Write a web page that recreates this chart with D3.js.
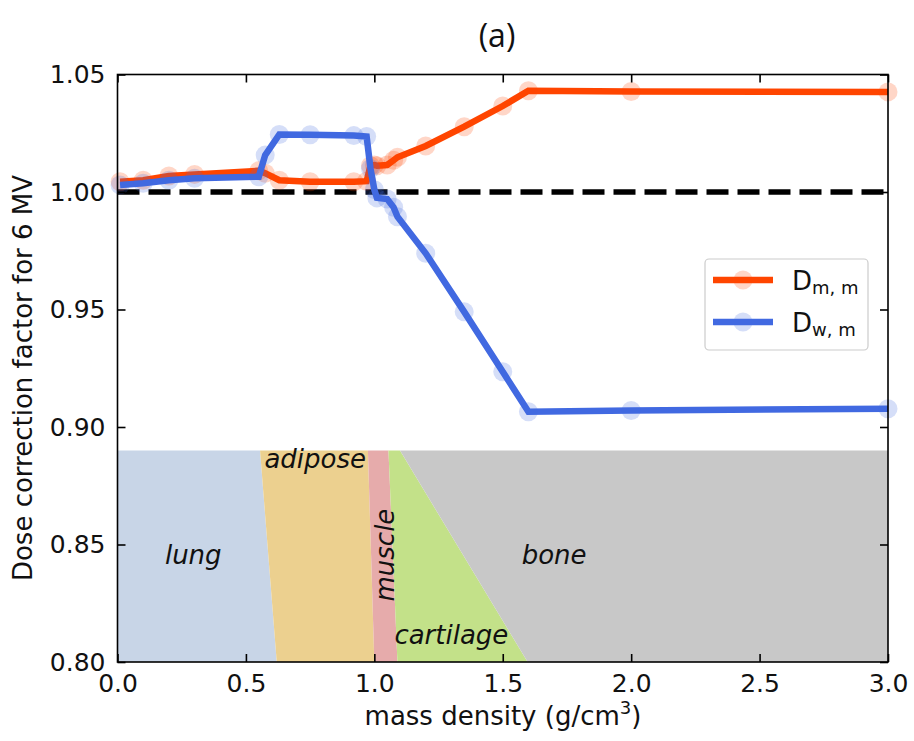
<!DOCTYPE html>
<html><head><meta charset="utf-8">
<script src="https://cdn.jsdelivr.net/npm/d3@7"></script>
<style>
body{margin:0;background:#fff;}
text{font-family:"DejaVu Sans",sans-serif;}
</style></head>
<body><svg id="c" width="914" height="741"></svg>
<script>
// ---- data ----
const density = [0.01,0.1,0.2,0.3,0.55,0.575,0.63,0.75,0.92,0.97,0.985,1.0,1.01,1.05,1.075,1.09,1.2,1.35,1.5,1.6,2.0,3.0];
const Dmm =     [1.0044,1.0050,1.0068,1.0075,1.0090,1.0080,1.0050,1.0044,1.0044,1.0046,1.0112,1.0115,1.0112,1.0115,1.0135,1.0148,1.0196,1.0278,1.0366,1.0431,1.0428,1.0426];
const Dwm =     [1.0030,1.0037,1.0050,1.0058,1.0065,1.0157,1.0245,1.0244,1.0240,1.0236,1.0100,1.0010,0.9975,0.9970,0.9935,0.9895,0.9739,0.9490,0.9235,0.9065,0.9070,0.9078];
const tissueNames = ["lung","adipose","muscle","cartilage","bone"];
// boundaries at top (y=0.89) and bottom (y=0.80)
const boundTop =    [0.0,0.555,0.975,1.055,1.10,3.0];
const boundBottom = [0.0,0.620,1.000,1.090,1.597,3.0];
const regionTop = 0.89;
const xTicks = [0,0.5,1.0,1.5,2.0,2.5,3.0];
const yTicks = [0.80,0.85,0.90,0.95,1.00,1.05];
const seriesNames = ["m, m","w, m"];

const colors = {lung:"#c8d5e7",adipose:"#ecd08f",muscle:"#e6abab",cartilage:"#c3e189",bone:"#c8c8c8"};
const lineColors = ["#ff4500","#4169e1"];

const svg = d3.select("#c");
const x = d3.scaleLinear().domain([0,3]).range([117.5,888]);
const y = d3.scaleLinear().domain([0.80,1.05]).range([662,74.5]);

// tissue regions
tissueNames.forEach((n,i)=>{
  const pts=[[boundTop[i],regionTop],[boundTop[i+1],regionTop],[boundBottom[i+1],0.80],[boundBottom[i],0.80]];
  svg.append("path").attr("d",d3.line().x(d=>x(d[0])).y(d=>y(d[1]))(pts)+"Z").attr("fill",colors[n]);
});

// region labels
const lab = svg.append("g").attr("font-style","italic").attr("font-size",26).attr("fill","#111");
lab.append("text").attr("x",x(0.295)).attr("y",y(0.8415)).attr("text-anchor","middle").text("lung");
lab.append("text").attr("x",x(0.77)).attr("y",y(0.8825)).attr("text-anchor","middle").text("adipose");
lab.append("text").attr("transform",`translate(${x(1.075)},${y(0.8455)}) rotate(-90)`).attr("text-anchor","middle").text("muscle");
lab.append("text").attr("x",x(1.30)).attr("y",y(0.8075)).attr("text-anchor","middle").text("cartilage");
lab.append("text").attr("x",x(1.70)).attr("y",y(0.8415)).attr("text-anchor","middle").text("bone");

// dashed reference line
svg.append("line").attr("x1",x(0)).attr("x2",x(3)).attr("y1",y(1)).attr("y2",y(1))
  .attr("stroke","#000").attr("stroke-width",5.5).attr("stroke-dasharray","22,9");

// series
const line = d3.line().x((d,i)=>x(density[i])).y(d=>y(d));
[Dmm,Dwm].forEach((vals,k)=>{
  const g = svg.append("g");
  g.append("path").attr("d",line(vals)).attr("fill","none").attr("stroke",lineColors[k]).attr("stroke-width",6.5).attr("stroke-linejoin","miter");
  g.selectAll("circle").data(vals).join("circle").attr("cx",(d,i)=>x(density[i])).attr("cy",d=>y(d)).attr("r",9.5)
    .attr("fill",lineColors[k]).attr("opacity",0.22);
});

// axes
const ax = svg.append("g");
const axB = d3.axisBottom(x).tickValues(xTicks).tickFormat(d3.format(".1f")).tickSize(-8).tickPadding(12);
const axT = d3.axisTop(x).tickValues(xTicks).tickFormat("").tickSize(-8);
const axL = d3.axisLeft(y).tickValues(yTicks).tickFormat(d3.format(".2f")).tickSize(-8).tickPadding(12);
const axR = d3.axisRight(y).tickValues(yTicks).tickFormat("").tickSize(-8);
[[axB,`translate(0,${y(0.8)})`],[axT,`translate(0,${y(1.05)})`],[axL,`translate(${x(0)},0)`],[axR,`translate(${x(3)},0)`]].forEach(([a,t])=>{
  const g=ax.append("g").attr("transform",t).call(a);
  g.select(".domain").remove();
  g.selectAll(".tick line").attr("stroke","#000").attr("stroke-width",1.6);
  g.selectAll(".tick text").attr("fill","#111").style("font-size","25px").style("font-family","DejaVu Sans");
});
svg.append("rect").attr("x",x(0)).attr("y",y(1.05)).attr("width",x(3)-x(0)).attr("height",y(0.8)-y(1.05))
  .attr("fill","none").attr("stroke","#000").attr("stroke-width",1.6);

// axis titles
const xt = svg.append("text").attr("x",503).attr("y",725).attr("text-anchor","middle").attr("font-size",26).attr("fill","#111");
xt.append("tspan").text("mass density (g/cm");
xt.append("tspan").attr("dy",-11).attr("font-size",18).text("3");
xt.append("tspan").attr("dy",11).text(")");
svg.append("text").attr("transform",`translate(32,378) rotate(-90)`).attr("text-anchor","middle")
  .attr("font-size",26).attr("fill","#111").text("Dose correction factor for 6 MV");

// title
svg.append("text").attr("x",497).attr("y",47).attr("text-anchor","middle").attr("font-size",32)
  .style("font-family","'Open Sans',sans-serif").attr("fill","#111").text("(a)");

// legend
const lg = svg.append("g");
lg.append("rect").attr("x",705).attr("y",259).attr("width",163).attr("height",91).attr("rx",4)
  .attr("fill","#fff").attr("fill-opacity",0.85).attr("stroke","#cccccc").attr("stroke-width",1.2);
seriesNames.forEach((s,k)=>{
  const yy = 280 + k*42;
  lg.append("circle").attr("cx",743).attr("cy",yy).attr("r",9.5).attr("fill",lineColors[k]).attr("opacity",0.22);
  lg.append("line").attr("x1",713).attr("x2",773).attr("y1",yy).attr("y2",yy).attr("stroke",lineColors[k]).attr("stroke-width",6.5);
  const t = lg.append("text").attr("x",792).attr("y",yy+10).attr("font-size",26).attr("fill","#111");
  t.append("tspan").text("D");
  t.append("tspan").attr("dy",4).attr("font-size",18).text(s);
});
</script></body></html>
